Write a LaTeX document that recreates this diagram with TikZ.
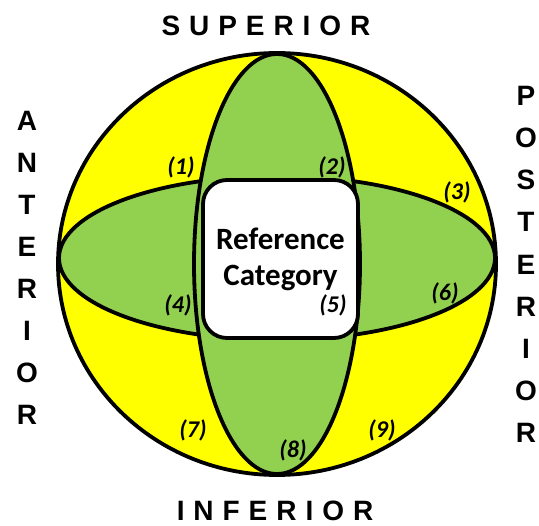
\documentclass[tikz,border=0pt]{standalone}
\usepackage{fontspec}
\setmainfont{Carlito}
\newfontfamily\dirfont[LetterSpace=32]{Liberation Sans}
\definecolor{ballyellow}{HTML}{FFFF00}
\definecolor{ballgreen}{HTML}{92D050}

\begin{document}
\begin{tikzpicture}[x=1pt,y=-1pt,inner sep=0pt,outer sep=0pt,line width=3.8pt,
refbox/.style={draw,fill=white,rounded corners=24pt,minimum width=155pt,minimum height=158pt,align=center,font=\bfseries\fontsize{31}{36}\selectfont},
region/.style={font=\bfseries\itshape\fontsize{24}{24}\selectfont},
dirlabel/.style={font=\dirfont\bfseries\fontsize{28}{28}\selectfont}]

\useasboundingbox (0,0) rectangle (539,526);

\draw[fill=ballyellow] (277,264) ellipse [x radius=219, y radius=211];
\draw[fill=ballgreen] (277,258) ellipse [x radius=218, y radius=82];
\draw[fill=ballgreen] (277,264) ellipse [x radius=83, y radius=210];

\node[refbox] (ref) at (280.5,259) {Reference\\Category};

\foreach \n/\x/\y in {1/181/167,2/332/167,3/457/192,4/178/305,5/333/305,6/445/293,7/193/430,8/293/450,9/382/430}
  \node[region] (r\n) at (\x,\y) {(\n)};

\node[dirlabel] (sup) at (266,26) {SUPERIOR};
\node[dirlabel] (inf) at (275,511) {INFERIOR};
\foreach \l [count=\i] in {A,N,T,E,R,I,O,R}
  \node[dirlabel] (ant\i) at (27,121+42*\i-42) {\l};
\foreach \l [count=\i] in {P,O,S,T,E,R,I,O,R}
  \node[dirlabel] (post\i) at (526,96+42.1*\i-42.1) {\l};
\end{tikzpicture}
\end{document}
